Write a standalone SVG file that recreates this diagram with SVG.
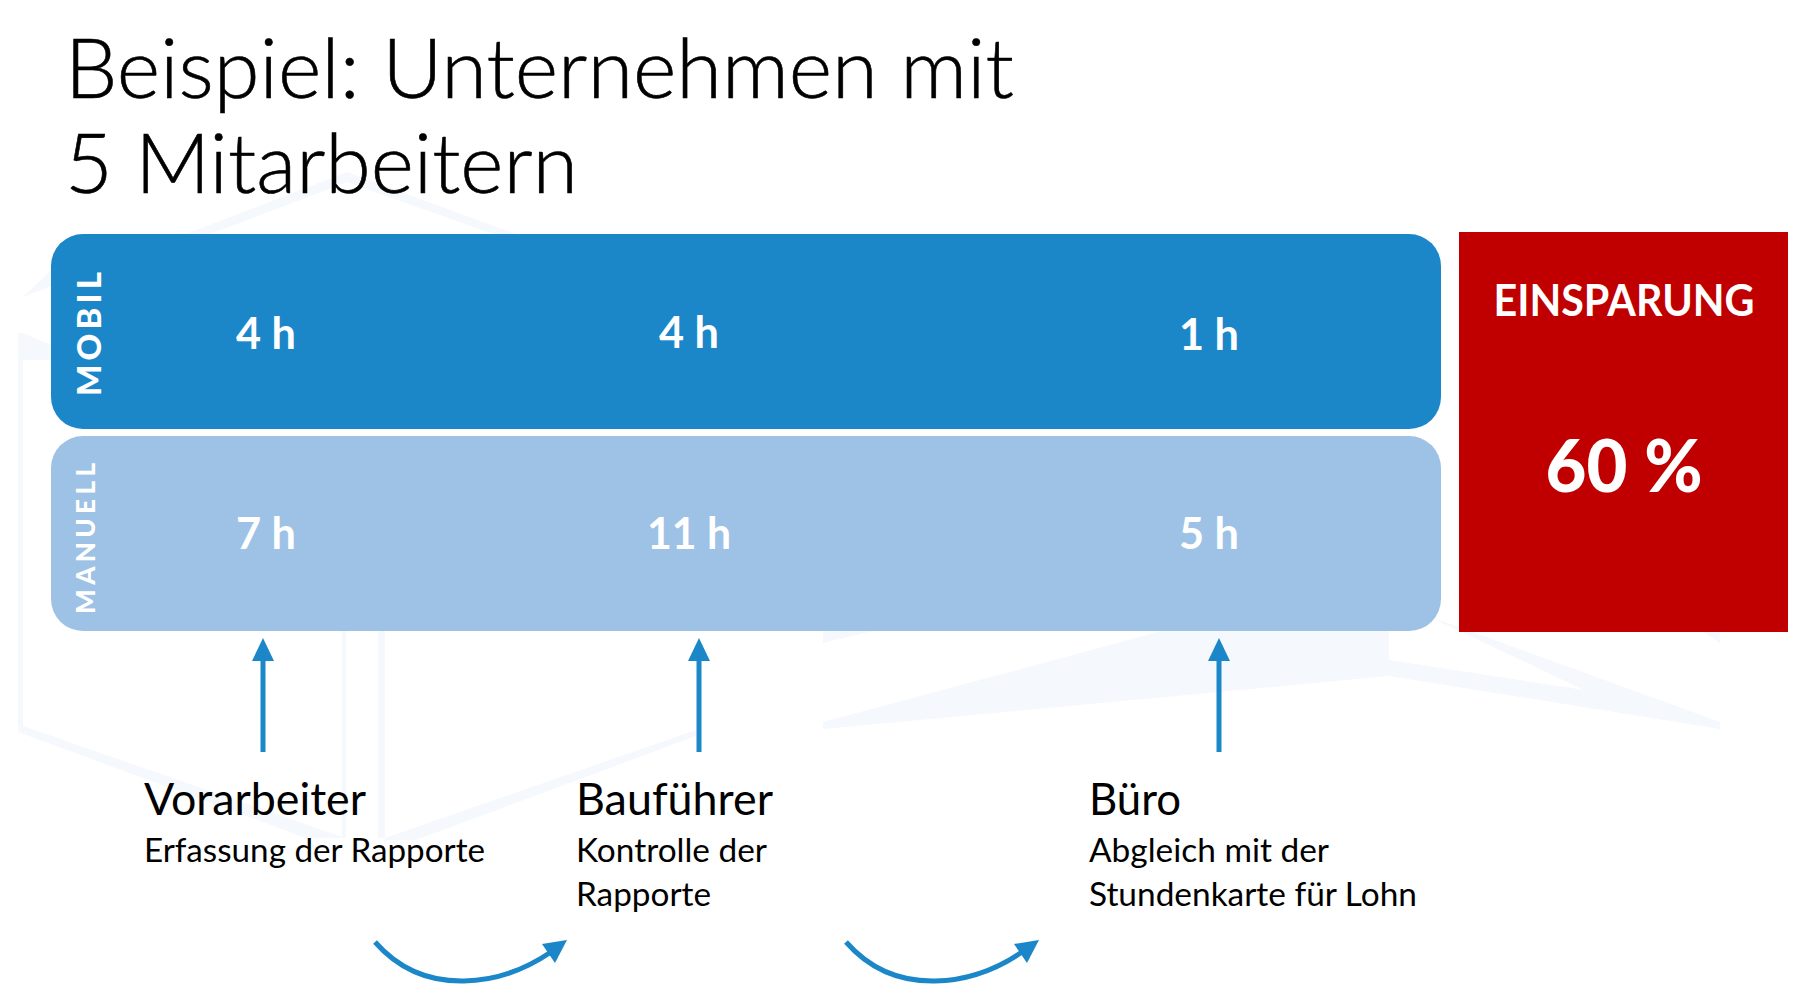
<svg xmlns="http://www.w3.org/2000/svg" width="1807" height="997" viewBox="0 0 1807 997">
<defs><style>
text{font-family:Lato,"Open Sans","Liberation Sans",sans-serif}
.t{font-size:82px;font-weight:300;fill:#000;stroke:#000;stroke-width:.6}
.h{font-size:44px;font-weight:700;fill:#fff;text-anchor:middle}
.n{font-size:44px;fill:#000}
.s{font-size:33px;fill:#000}
.v{font-weight:900;fill:#fff}
.w{fill:#f5f8fc}
.ar{fill:none;stroke:#1b87c9;stroke-width:5}
.ah{fill:#1b87c9}
</style></defs>
<rect width="1807" height="997" fill="#fff"/>
<g id="watermark">
<path class="w" d="M23 297L347 172L526 238H504L347 182L200 238H120L58 262V270H51L23 297Z"/>
<path class="w" d="M18 333H23L58 348V360H23V726L345 838H306L18 732Z"/>
<path class="w" d="M342 631H346V838H342ZM378 631H385V838H378Z"/>
<path class="w" d="M385 838L696 730V736L416 840H385Z"/>
<path class="w" d="M823 722L1240 610H1389V660L1584 690L1415 610H1412L1720 722V729L1389 676L823 729Z"/>
<path class="w" d="M823 628H885L823 643ZM1720 628V643L1697 628Z"/>
</g>
<g id="title"><text class="t" x="65" y="98" textLength="949" lengthAdjust="spacingAndGlyphs">Beispiel: Unternehmen mit</text>
<text class="t" x="65" y="193" textLength="513" lengthAdjust="spacingAndGlyphs">5 Mitarbeitern</text></g>
<g id="mobil"><rect x="51" y="234" width="1390" height="195" rx="32" fill="#1b87c9"/>
<text class="v" style="font-size:33px" transform="translate(101 396) rotate(-90)" textLength="124">MOBIL</text>
<text class="h" x="266" y="349" textLength="60" lengthAdjust="spacingAndGlyphs">4 h</text>
<text class="h" x="689" y="348" textLength="60" lengthAdjust="spacingAndGlyphs">4 h</text>
<text class="h" x="1209" y="350" textLength="60" lengthAdjust="spacingAndGlyphs">1 h</text></g>
<g id="manuell"><rect x="51" y="436" width="1390" height="195" rx="32" fill="#9dc2e6"/>
<text class="v" style="font-size:26px" transform="translate(95 614) rotate(-90)" textLength="151">MANUELL</text>
<text class="h" x="266" y="549" textLength="60" lengthAdjust="spacingAndGlyphs">7 h</text>
<text class="h" x="689" y="549" textLength="84" lengthAdjust="spacingAndGlyphs">11 h</text>
<text class="h" x="1209" y="549" textLength="60" lengthAdjust="spacingAndGlyphs">5 h</text></g>
<g id="einsparung"><rect x="1459" y="232" width="329" height="400" fill="#c00000"/>
<text class="h" x="1624" y="316" textLength="261" lengthAdjust="spacingAndGlyphs">EINSPARUNG</text>
<text class="h" style="font-size:72px;font-weight:900" x="1624" y="492" textLength="157" lengthAdjust="spacingAndGlyphs">60 %</text></g>
<g id="vorarbeiter"><text class="n" x="144" y="815" textLength="222" lengthAdjust="spacingAndGlyphs">Vorarbeiter</text>
<text class="s" x="144" y="862" textLength="341" lengthAdjust="spacingAndGlyphs">Erfassung der Rapporte</text></g>
<g id="baufuehrer"><text class="n" x="576" y="815" textLength="197" lengthAdjust="spacingAndGlyphs">Bauführer</text>
<text class="s" x="576" y="862" textLength="191" lengthAdjust="spacingAndGlyphs">Kontrolle der</text>
<text class="s" x="576" y="906" textLength="135" lengthAdjust="spacingAndGlyphs">Rapporte</text></g>
<g id="buero"><text class="n" x="1089" y="815" textLength="92" lengthAdjust="spacingAndGlyphs">Büro</text>
<text class="s" x="1089" y="862" textLength="240" lengthAdjust="spacingAndGlyphs">Abgleich mit der</text>
<text class="s" x="1089" y="906" textLength="328" lengthAdjust="spacingAndGlyphs">Stundenkarte für Lohn</text></g>
<g id="connectors">
<path class="ar" d="M263 752V658"/><path class="ah" d="M263 638l11 23h-22z"/>
<path class="ar" d="M699 752V658"/><path class="ah" d="M699 638l11 23h-22z"/>
<path class="ar" d="M1219 752V658"/><path class="ah" d="M1219 638l11 23h-22z"/>
<path class="ar" d="M375 942Q410 982 464 981Q510 980 551 952"/><path class="ah" d="M567 940L542 944L555 963Z"/>
<path class="ar" d="M846 942Q881 982 935 981Q981 980 1022 952"/><path class="ah" d="M1039 940L1014 944L1027 963Z"/>
</g>
</svg>
